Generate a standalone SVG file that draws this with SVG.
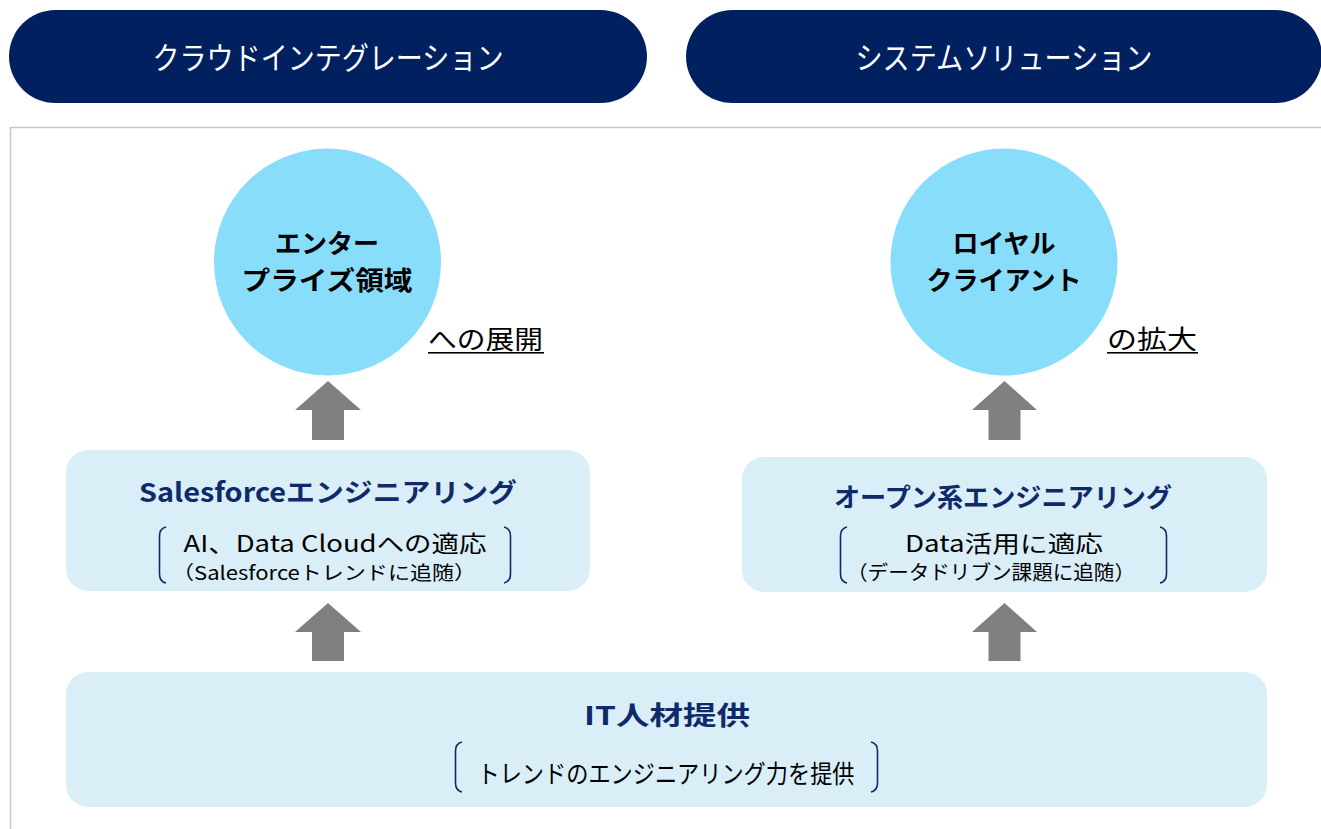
<svg xmlns="http://www.w3.org/2000/svg" width="1321" height="829" viewBox="0 0 1321 829">
<style>
.hdr{fill:#00205F}
.hdrt{fill:#fff;font-family:"Noto Sans CJK JP","Noto Sans",sans-serif;font-size:31px;font-weight:400}
.circ{fill:#88DDFB}
.ct{fill:#000;font-family:"Noto Sans CJK JP",sans-serif;font-size:26px;font-weight:700}
.ul{fill:#000;font-family:"Noto Sans CJK JP",sans-serif;font-size:26px;font-weight:400}
.box{fill:#DAEEF8}
.bt{fill:#0F2A68;font-family:"Noto Sans CJK JP",sans-serif;font-size:26px;font-weight:700}
.st{fill:#000;font-family:"Noto Sans CJK JP",sans-serif;font-weight:400}
.br{fill:none;stroke:#0F2A68;stroke-width:1.6}
.arr{fill:#808080}
</style>
<rect x="0" y="0" width="1321" height="829" fill="#fff"/>
<path d="M10.5 829 V127.5 H1321" fill="none" stroke="#c8c8c8" stroke-width="1.5"/>

<g id="header-cloud">
<rect class="hdr" x="9" y="10" width="638" height="93" rx="46.5"/>
<text class="hdrt" x="328" y="69" text-anchor="middle" textLength="351" lengthAdjust="spacingAndGlyphs">クラウドインテグレーション</text>
</g>
<g id="header-system">
<rect class="hdr" x="686" y="10" width="636" height="93" rx="46.5"/>
<text class="hdrt" x="1004" y="69" text-anchor="middle" textLength="297" lengthAdjust="spacingAndGlyphs">システムソリューション</text>
</g>

<g id="enterprise">
<circle class="circ" cx="327.5" cy="262" r="113.5"/>
<text class="ct" x="327" y="253" text-anchor="middle">エンター</text>
<text class="ct" x="327" y="290" text-anchor="middle" textLength="171" lengthAdjust="spacingAndGlyphs">プライズ領域</text>
<text class="ul" x="428" y="349" textLength="115" lengthAdjust="spacingAndGlyphs">への展開</text>
<rect x="428" y="352" width="116" height="1.6" fill="#000"/>
</g>
<g id="royal">
<circle class="circ" cx="1004" cy="262" r="113.5"/>
<text class="ct" x="1004" y="253" text-anchor="middle">ロイヤル</text>
<text class="ct" x="1004" y="290" text-anchor="middle">クライアント</text>
<text class="ul" x="1107" y="349" textLength="90" lengthAdjust="spacingAndGlyphs">の拡大</text>
<rect x="1107" y="352" width="91" height="1.6" fill="#000"/>
</g>

<g id="salesforce">
<rect class="box" x="66" y="450" width="524" height="141" rx="22"/>
<text class="bt" x="328" y="502" text-anchor="middle" textLength="378" lengthAdjust="spacingAndGlyphs">Salesforceエンジニアリング</text>
<text class="st" x="335" y="552" text-anchor="middle" font-size="23" textLength="303" lengthAdjust="spacingAndGlyphs">AI、Data Cloudへの適応</text>
<text class="st" x="324" y="580" text-anchor="middle" font-size="19" textLength="304" lengthAdjust="spacingAndGlyphs">（Salesforceトレンドに追随）</text>
<path class="br" d="M166 527 Q159.5 528.5 159.5 536 V574 Q159.5 581.5 166 583"/>
<path class="br" d="M504 527 Q510.5 528.5 510.5 536 V574 Q510.5 581.5 504 583"/>
</g>

<g id="open">
<rect class="box" x="742" y="457" width="525" height="135" rx="22"/>
<text class="bt" x="1003" y="507" text-anchor="middle" textLength="338" lengthAdjust="spacingAndGlyphs">オープン系エンジニアリング</text>
<text class="st" x="1004" y="552" text-anchor="middle" font-size="23" textLength="198" lengthAdjust="spacingAndGlyphs">Data活用に適応</text>
<text class="st" x="991" y="580" text-anchor="middle" font-size="20" textLength="288" lengthAdjust="spacingAndGlyphs">（データドリブン課題に追随）</text>
<path class="br" d="M847 527 Q840.5 528.5 840.5 536 V574 Q840.5 581.5 847 583"/>
<path class="br" d="M1160 527 Q1166.5 528.5 1166.5 536 V574 Q1166.5 581.5 1160 583"/>
</g>

<g id="it">
<rect class="box" x="66" y="672" width="1201" height="135" rx="22"/>
<text class="bt" x="667" y="725" text-anchor="middle" font-size="28" textLength="166" lengthAdjust="spacingAndGlyphs">IT人材提供</text>
<text class="st" x="666" y="783" text-anchor="middle" font-size="25" textLength="377" lengthAdjust="spacingAndGlyphs">トレンドのエンジニアリング力を提供</text>
<path class="br" d="M462 742 Q455.5 743.5 455.5 751 V783 Q455.5 790.5 462 792"/>
<path class="br" d="M871 742 Q877.5 743.5 877.5 751 V783 Q877.5 790.5 871 792"/>
</g>

<g id="connectors">
<path class="arr" d="M328 381 L361 410 H344 V440 H312 V410 H295 Z"/>
<path class="arr" d="M1004.5 381 L1037 410 H1020.5 V440 H988.5 V410 H972 Z"/>
<path class="arr" d="M328 603 L361 632 H344 V661 H312 V632 H295 Z"/>
<path class="arr" d="M1004.5 603 L1037 632 H1020.5 V661 H988.5 V632 H972 Z"/>
</g>
</svg>
